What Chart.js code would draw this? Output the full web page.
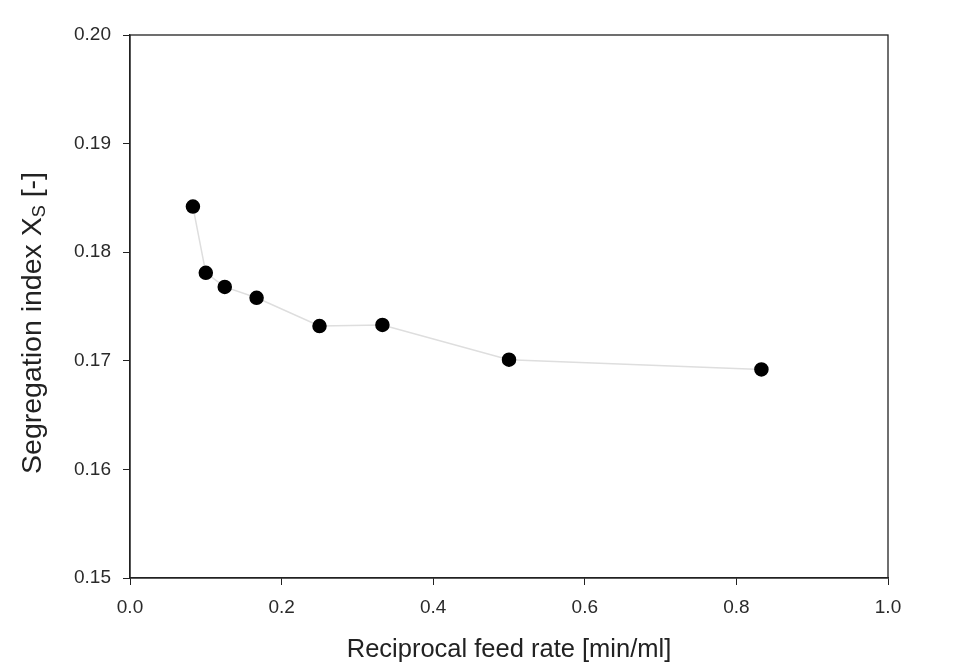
<!DOCTYPE html>
<html>
<head>
<meta charset="utf-8">
<script src="https://cdn.jsdelivr.net/npm/chart.js@4.4.1/dist/chart.umd.min.js"></script>
<style>
  html, body { margin: 0; padding: 0; background: #fff; }
  #wrap { width: 954px; height: 665px; }
</style>
</head>
<body>
<div id="wrap"><canvas id="segChart" width="954" height="665"></canvas></div>
<script>
// reciprocal feed rate [min/ml] and segregation index
const feedRecip = [0.083, 0.1, 0.125, 0.167, 0.25, 0.333, 0.5, 0.833];
const segIndex = [0.1842, 0.1781, 0.1768, 0.1758, 0.1732, 0.1733, 0.1701, 0.1692];
const xTicks = [0.0, 0.2, 0.4, 0.6, 0.8, 1.0];
const yTicks = [0.15, 0.16, 0.17, 0.18, 0.19, 0.20];

const fontFam = "'Liberation Sans', Arial, sans-serif";

// box around plot + y title with subscript
const framePlugin = {
  id: 'frame',
  afterDraw(chart) {
    const { ctx, chartArea: a } = chart;
    ctx.save();
    ctx.strokeStyle = '#222';
    ctx.lineWidth = 1.3;
    ctx.strokeRect(a.left, a.top, a.right - a.left, a.bottom - a.top);

    // y axis title
    ctx.translate(33, 323);
    ctx.rotate(-Math.PI / 2);
    ctx.fillStyle = '#222';
    ctx.textBaseline = 'middle';
    const main = 'Segregation index X';
    const sub = 'S';
    const tail = ' [-]';
    ctx.font = '28.5px ' + fontFam;
    const w1 = ctx.measureText(main).width;
    const w3 = ctx.measureText(tail).width;
    ctx.font = '18px ' + fontFam;
    const w2 = ctx.measureText(sub).width;
    let x = -(w1 + w2 + w3) / 2;
    ctx.font = '28.5px ' + fontFam;
    ctx.textAlign = 'left';
    ctx.fillText(main, x, 0);
    x += w1;
    ctx.font = '18px ' + fontFam;
    ctx.fillText(sub, x, 7);
    x += w2;
    ctx.font = '28.5px ' + fontFam;
    ctx.fillText(tail, x, 0);
    ctx.restore();
  }
};

const ctx = document.getElementById('segChart').getContext('2d');

new Chart(ctx, {
  type: 'scatter',
  data: {
    datasets: [{
      label: 'Segregation index',
      data: feedRecip.map((v, i) => ({ x: v, y: segIndex[i] })),
      showLine: true,
      borderColor: '#dedede',
      borderWidth: 1.5,
      backgroundColor: '#000',
      pointBackgroundColor: '#000',
      pointBorderColor: '#000',
      pointRadius: 6.5,
      pointHoverRadius: 6.5
    }]
  },
  options: {
    responsive: false,
    animation: false,
    layout: {
      padding: { top: 35, right: 66, left: 0, bottom: 0 }
    },
    plugins: {
      legend: { display: false },
      tooltip: { enabled: false }
    },
    scales: {
      x: {
        type: 'linear',
        min: 0,
        max: 1,
        afterFit: (s) => { s.height = 87; },
        afterBuildTicks: (s) => { s.ticks = xTicks.map(v => ({ value: v })); },
        grid: {
          drawOnChartArea: false,
          drawTicks: true,
          tickLength: 7,
          color: '#222'
        },
        border: { display: true, color: '#222', width: 1.3 },
        ticks: {
          padding: 11,
          color: '#2a2a2a',
          font: { family: fontFam, size: 19 },
          callback: (v) => Number(v).toFixed(1)
        },
        title: {
          display: true,
          text: 'Reciprocal feed rate [min/ml]',
          color: '#222',
          font: { family: fontFam, size: 25.5 },
          padding: { top: 10, bottom: 0 }
        }
      },
      y: {
        type: 'linear',
        min: 0.15,
        max: 0.20,
        afterFit: (s) => { s.width = 130; },
        afterBuildTicks: (s) => { s.ticks = yTicks.map(v => ({ value: v })); },
        grid: {
          drawOnChartArea: false,
          drawTicks: true,
          tickLength: 7,
          color: '#222'
        },
        border: { display: true, color: '#222', width: 1.3 },
        ticks: {
          padding: 12,
          color: '#2a2a2a',
          font: { family: fontFam, size: 19 },
          callback: (v) => Number(v).toFixed(2)
        }
      }
    }
  },
  plugins: [framePlugin]
});
</script>
</body>
</html>
